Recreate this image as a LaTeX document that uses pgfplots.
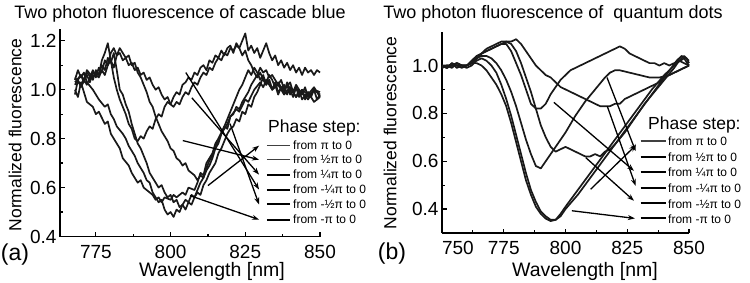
\documentclass[border=0pt]{standalone}
\usepackage{pgfplots}
\pgfplotsset{compat=1.18}
\usepackage{fontspec}
\setmainfont{Liberation Sans}
\usetikzlibrary{arrows.meta}

\pgfplotsset{
  panel/.style={
    scale only axis, clip=false,
    axis x line*=bottom, axis y line*=left,
    axis line style={-, line width=1.5pt},
    tick align=inside,
    major tick length=4.5pt, minor tick length=3pt,
    every tick/.style={black, line width=1.2pt},
    minor x tick num=1, minor y tick num=1,
    /pgf/number format/assume math mode=true,
    ticklabel style={font=\fontsize{19}{19}\selectfont},
    xticklabel style={yshift=-5pt},
    yticklabel style={/pgf/number format/.cd, fixed, fixed zerofill, precision=1},
    every axis plot post/.append style={black!90, line width=1.7pt, solid, mark=none, sharp plot, line join=round},
  },
}
\tikzset{
  annot/.style={line width=1.3pt, black, -{Stealth[length=7pt,width=5pt]}},
  legl/.style={line width=2pt, black},
  legt/.style={line width=1.3pt, black!75},
}
\newcommand{\legfont}{\fontsize{12}{12}\selectfont}

\begin{document}
\begin{tikzpicture}[x=1pt,y=1pt]
\path[use as bounding box] (0,0) rectangle (750,282);

% ---------------- panel (a) ----------------
\begin{axis}[panel,
  at={(60pt,45.5pt)}, anchor=south west,
  width=260pt, height=208pt,
  xmin=763, xmax=850, ymin=0.4, ymax=1.25,
  xtick={775,800,825,850}, ytick={0.4,0.6,0.8,1.0,1.2},
]
% A1
\addplot coordinates {(768,1.00)(769,0.97)(770,1.03)(771,0.99)(772,0.95)(774,0.93)(775,0.90)(776,0.91)(778,0.86)(779,0.87)(780,0.82)(782,0.78)(783,0.76)(784,0.72)(786,0.69)(787,0.66)(788,0.64)(789,0.62)(790,0.63)(791,0.60)(792,0.59)(794,0.57)(795,0.55)(796,0.56)(797,0.54)(798,0.56)(800,0.55)(801,0.57)(802,0.56)(804,0.58)(805,0.57)(806,0.60)(808,0.59)(809,0.62)(810,0.66)(811,0.65)(812,0.70)(814,0.74)(815,0.78)(816,0.80)(818,0.85)(819,0.84)(820,0.89)(822,0.92)(823,0.91)(825,0.96)(826,0.95)(828,1.00)(830,1.03)(831,1.01)(832,1.04)(834,1.00)(836,1.02)(838,0.98)(840,1.01)(842,0.97)(844,1.00)(846,0.98)(848,1.01)(850,0.97)};
% A2
\addplot coordinates {(768,1.04)(769,1.08)(770,1.05)(771,1.07)(772,1.03)(774,1.00)(775,0.98)(776,0.96)(778,0.93)(779,0.94)(780,0.90)(781,0.88)(782,0.85)(784,0.82)(785,0.80)(786,0.77)(787,0.75)(788,0.73)(789,0.70)(790,0.68)(791,0.66)(792,0.63)(793,0.62)(794,0.58)(795,0.56)(796,0.54)(797,0.55)(798,0.51)(799,0.49)(800,0.50)(801,0.48)(802,0.51)(803,0.50)(804,0.53)(805,0.55)(806,0.54)(807,0.57)(808,0.56)(809,0.59)(810,0.62)(811,0.64)(812,0.68)(813,0.71)(814,0.73)(815,0.77)(816,0.79)(817,0.82)(818,0.84)(819,0.86)(820,0.89)(821,0.90)(822,0.93)(823,0.92)(824,0.95)(825,0.97)(826,0.99)(827,1.02)(828,1.04)(829,1.06)(830,1.09)(831,1.07)(832,1.08)(833,1.05)(834,1.06)(836,1.02)(837,1.04)(838,1.00)(840,1.03)(841,0.99)(842,1.02)(844,0.98)(845,1.01)(846,0.97)(848,1.00)(850,0.99)};
% A3
\addplot coordinates {(768,1.02)(770,1.06)(771,1.03)(772,1.08)(774,1.05)(775,1.07)(776,1.06)(777,1.10)(778,1.08)(779,1.13)(780,1.11)(781,1.15)(782,1.08)(783,1.00)(784,0.98)(785,0.94)(786,0.91)(787,0.86)(788,0.82)(789,0.78)(790,0.76)(791,0.73)(792,0.70)(793,0.66)(794,0.64)(795,0.62)(796,0.60)(797,0.61)(798,0.58)(799,0.56)(800,0.57)(801,0.54)(802,0.55)(803,0.52)(804,0.53)(805,0.51)(806,0.54)(807,0.53)(808,0.56)(809,0.58)(810,0.57)(811,0.61)(812,0.63)(813,0.66)(814,0.68)(815,0.70)(816,0.74)(817,0.76)(818,0.79)(819,0.82)(820,0.84)(821,0.85)(822,0.88)(823,0.87)(824,0.91)(825,0.90)(826,0.94)(827,0.93)(828,0.97)(829,0.99)(830,1.02)(831,1.05)(832,1.03)(833,1.06)(834,1.04)(835,1.01)(836,1.03)(838,0.99)(839,1.02)(840,0.98)(842,1.01)(843,0.97)(844,0.99)(846,0.96)(848,1.00)(850,0.98)};
% A4
\addplot coordinates {(768,0.98)(769,1.04)(770,1.01)(772,1.06)(773,1.03)(774,1.07)(776,1.05)(777,1.08)(778,1.06)(779,1.10)(780,1.12)(781,1.09)(782,1.14)(783,1.17)(784,1.15)(785,1.13)(786,1.14)(787,1.10)(788,1.11)(789,1.07)(790,1.05)(791,1.02)(792,0.99)(793,0.95)(794,0.93)(795,0.89)(796,0.86)(797,0.83)(798,0.81)(799,0.79)(800,0.76)(801,0.75)(802,0.72)(803,0.71)(804,0.69)(805,0.70)(806,0.67)(807,0.66)(808,0.65)(809,0.63)(810,0.65)(811,0.64)(812,0.67)(813,0.69)(814,0.72)(815,0.76)(816,0.78)(817,0.82)(818,0.85)(819,0.88)(820,0.91)(821,0.94)(822,0.97)(823,1.00)(824,1.02)(825,1.05)(826,1.08)(827,1.06)(828,1.09)(829,1.07)(830,1.04)(831,1.06)(832,1.02)(833,1.04)(834,1.00)(835,1.03)(836,0.99)(838,1.02)(839,0.98)(840,1.01)(842,0.97)(843,1.00)(844,0.96)(846,0.99)(848,0.95)(850,0.97)};
% A5
\addplot coordinates {(768,1.05)(770,1.02)(772,1.07)(774,1.04)(775,1.08)(776,1.06)(777,1.12)(778,1.15)(779,1.19)(780,1.12)(781,1.05)(782,1.00)(783,0.96)(784,0.93)(785,0.90)(786,0.86)(787,0.84)(788,0.80)(789,0.79)(790,0.81)(791,0.80)(792,0.83)(793,0.85)(794,0.84)(795,0.88)(796,0.90)(797,0.89)(798,0.93)(799,0.95)(800,0.94)(801,0.97)(802,0.99)(803,0.98)(804,1.02)(805,1.03)(806,1.05)(807,1.04)(808,1.07)(809,1.06)(810,1.09)(811,1.10)(812,1.08)(813,1.12)(814,1.11)(815,1.14)(816,1.13)(817,1.16)(818,1.14)(819,1.17)(820,1.18)(821,1.15)(822,1.19)(823,1.17)(824,1.20)(825,1.23)(826,1.16)(827,1.18)(828,1.15)(829,1.17)(830,1.13)(831,1.16)(832,1.19)(833,1.15)(834,1.12)(835,1.14)(836,1.10)(837,1.12)(838,1.09)(839,1.11)(840,1.08)(841,1.10)(842,1.07)(843,1.09)(844,1.06)(845,1.09)(846,1.07)(847,1.08)(848,1.06)(849,1.08)(850,1.07)};
% A6
\addplot coordinates {(768,1.03)(770,1.06)(772,1.02)(774,1.08)(775,1.05)(776,1.09)(777,1.07)(778,1.12)(779,1.10)(780,1.15)(781,1.17)(782,1.14)(783,1.15)(784,1.12)(785,1.13)(786,1.10)(787,1.11)(788,1.08)(789,1.09)(790,1.06)(791,1.07)(792,1.04)(793,1.05)(794,1.02)(795,1.00)(796,1.01)(797,0.98)(798,0.96)(799,0.97)(800,0.94)(801,0.93)(802,0.95)(803,0.94)(804,0.97)(805,0.99)(806,0.98)(807,1.01)(808,1.03)(809,1.02)(810,1.05)(811,1.07)(812,1.06)(813,1.09)(814,1.08)(815,1.11)(816,1.13)(817,1.12)(818,1.15)(819,1.14)(820,1.17)(821,1.16)(822,1.18)(823,1.17)(824,1.14)(825,1.16)(826,1.12)(827,1.10)(828,1.07)(829,1.05)(830,1.07)(831,1.04)(832,1.02)(833,1.04)(834,1.00)(835,1.02)(836,0.98)(837,1.01)(838,0.99)(839,1.03)(840,1.00)(841,0.97)(842,1.01)(843,0.98)(844,1.00)(845,0.96)(846,0.99)(847,0.97)(848,1.00)(849,0.96)(850,0.98)};
% arrows (a)
\draw[annot] (axis cs:812.5,0.608) -- (axis cs:829.6,0.771);
\draw[annot] (axis cs:804.1,0.792) -- (axis cs:829.6,0.714);
\draw[annot] (axis cs:807.1,0.967) -- (axis cs:829.6,0.653);
\draw[annot] (axis cs:805.1,1.070) -- (axis cs:829.6,0.592);
\draw[annot] (axis cs:819.9,0.861) -- (axis cs:829.6,0.531);
\draw[annot] (axis cs:806.5,0.567) -- (axis cs:829.6,0.469);
% legend lines (a)
\draw[legt] (axis cs:832.2,0.771) -- (axis cs:839.9,0.771);
\draw[legt] (axis cs:832.2,0.714) -- (axis cs:839.9,0.714);
\draw[legl] (axis cs:832.2,0.653) -- (axis cs:839.9,0.653);
\draw[legl] (axis cs:832.2,0.592) -- (axis cs:839.9,0.592);
\draw[legl] (axis cs:832.2,0.531) -- (axis cs:839.9,0.531);
\draw[legl] (axis cs:832.2,0.469) -- (axis cs:839.9,0.469);
\end{axis}

% ---------------- panel (b) ----------------
\begin{axis}[panel,
  at={(442pt,49pt)}, anchor=south west,
  width=247pt, height=201pt,
  xmin=750, xmax=850, ymin=0.3, ymax=1.14,
  xtick={750,775,800,825,850}, ytick={0.4,0.6,0.8,1.0},
  xticklabels={\hphantom{750}750,775,800,825,850},
]
% B1
\addplot coordinates {(750,1.0)(752,0.99)(754,1.01)(756,0.99)(758,1.0)(760,1.0)(762,1.01)(764,1.03)(766,1.05)(768,1.06)(770,1.07)(772,1.08)(774,1.09)(776,1.10)(778,1.10)(780,1.11)(782,1.09)(784,1.06)(786,1.03)(788,1.00)(790,0.98)(792,0.96)(794,0.95)(796,0.93)(798,0.91)(800,0.90)(802,0.89)(804,0.88)(806,0.87)(808,0.86)(810,0.85)(812,0.84)(814,0.83)(816,0.83)(818,0.83)(820,0.84)(822,0.84)(824,0.86)(826,0.87)(828,0.88)(830,0.89)(832,0.90)(834,0.91)(836,0.92)(838,0.93)(840,0.95)(842,0.96)(844,0.97)(846,0.98)(848,0.99)(850,1.00)};
% B2
\addplot coordinates {(750,1.0)(752,1.0)(754,0.99)(756,1.01)(758,1.0)(760,1.0)(762,1.02)(764,1.04)(766,1.05)(768,1.06)(770,1.07)(772,1.08)(774,1.09)(776,1.09)(778,1.06)(780,1.01)(782,0.96)(784,0.90)(786,0.84)(788,0.82)(790,0.82)(792,0.84)(794,0.88)(796,0.91)(798,0.94)(800,0.96)(802,0.98)(804,0.99)(806,1.00)(808,1.01)(810,1.02)(812,1.03)(814,1.04)(816,1.05)(818,1.06)(820,1.07)(822,1.08)(824,1.07)(826,1.05)(828,1.04)(830,1.03)(832,1.02)(834,1.01)(836,1.01)(838,1.00)(840,1.01)(842,1.00)(844,1.01)(846,1.02)(848,1.01)(850,1.00)};
% B3
\addplot coordinates {(750,0.99)(752,1.0)(754,1.0)(756,1.01)(758,1.0)(760,1.0)(762,1.01)(764,1.03)(766,1.05)(768,1.07)(770,1.08)(772,1.09)(774,1.10)(776,1.10)(778,1.09)(780,1.06)(782,1.01)(784,0.95)(786,0.89)(788,0.82)(790,0.75)(792,0.70)(794,0.66)(796,0.64)(798,0.65)(800,0.66)(802,0.65)(804,0.64)(806,0.63)(808,0.62)(810,0.62)(812,0.63)(814,0.62)(816,0.64)(818,0.65)(820,0.67)(824,0.72)(828,0.78)(832,0.84)(836,0.89)(840,0.94)(844,0.99)(846,1.02)(848,1.04)(849,1.03)(850,1.02)};
% B4
\addplot coordinates {(750,1.0)(752,0.99)(754,1.01)(756,1.0)(758,1.0)(760,1.0)(762,1.01)(764,1.03)(766,1.04)(768,1.04)(770,1.03)(772,1.01)(774,0.98)(776,0.94)(778,0.89)(780,0.83)(782,0.76)(784,0.69)(786,0.63)(788,0.58)(790,0.57)(792,0.60)(796,0.66)(800,0.72)(804,0.79)(808,0.85)(812,0.90)(816,0.95)(818,0.97)(820,0.98)(822,0.98)(826,0.97)(830,0.96)(834,0.95)(838,0.95)(842,0.96)(846,0.98)(850,1.00)};
% B5
\addplot coordinates {(750,1.0)(752,0.99)(754,1.0)(756,1.01)(758,1.0)(760,0.99)(762,1.0)(764,1.02)(766,1.03)(768,1.02)(770,1.0)(772,0.97)(774,0.92)(776,0.86)(778,0.79)(780,0.71)(782,0.63)(784,0.55)(786,0.48)(788,0.43)(790,0.39)(792,0.37)(794,0.355)(796,0.355)(798,0.37)(800,0.40)(805,0.46)(810,0.53)(815,0.60)(820,0.67)(825,0.74)(830,0.81)(835,0.88)(840,0.95)(845,1.02)(847,1.04)(849,1.03)(850,1.01)};
% B6
\addplot coordinates {(750,0.99)(752,1.0)(754,1.0)(756,1.0)(758,0.99)(760,1.0)(762,1.01)(764,1.01)(766,1.0)(768,0.98)(770,0.95)(772,0.92)(774,0.88)(776,0.83)(778,0.76)(780,0.68)(782,0.60)(784,0.52)(786,0.46)(788,0.41)(790,0.38)(792,0.36)(794,0.35)(796,0.355)(798,0.38)(800,0.41)(805,0.48)(810,0.55)(815,0.62)(820,0.69)(825,0.76)(830,0.83)(835,0.90)(840,0.96)(845,1.01)(848,1.03)(850,1.00)};
% arrows (b)
\draw[annot] (axis cs:810.2,0.483) -- (axis cs:828.5,0.667);
\draw[annot] (axis cs:816.8,0.950) -- (axis cs:828.4,0.642);
\draw[annot] (axis cs:795.3,0.846) -- (axis cs:827.7,0.560);
\draw[annot] (axis cs:816.9,0.830) -- (axis cs:828.4,0.497);
\draw[annot] (axis cs:808.2,0.615) -- (axis cs:827.7,0.435);
\draw[annot] (axis cs:802.6,0.393) -- (axis cs:828.1,0.361);
% legend lines (b)
\draw[legt] (axis cs:830.4,0.685) -- (axis cs:840.6,0.685);
\draw[legl] (axis cs:830.4,0.618) -- (axis cs:840.6,0.618);
\draw[legl] (axis cs:830.4,0.557) -- (axis cs:840.6,0.557);
\draw[legl] (axis cs:830.4,0.490) -- (axis cs:840.6,0.490);
\draw[legl] (axis cs:830.4,0.425) -- (axis cs:840.6,0.425);
\draw[legl] (axis cs:830.4,0.361) -- (axis cs:840.6,0.361);
\end{axis}

% ---------------- texts ----------------
\node[font=\fontsize{18}{18}\selectfont] at (180,268) {Two photon fluorescence of cascade blue};
\node[font=\fontsize{18}{18}\selectfont] at (553,268) {Two photon fluorescence of\ \ quantum dots};
\node[font=\fontsize{17.5}{17.5}\selectfont, rotate=90] at (15,147) {Normalized fluorescence};
\node[font=\fontsize{17.5}{17.5}\selectfont, rotate=90] at (390,149) {Normalized fluorescence};
\node[font=\fontsize{19.5}{19.5}\selectfont, inner sep=0pt] at (212,10.5) {Wavelength [nm]};
\node[font=\fontsize{19.5}{19.5}\selectfont, inner sep=0pt] at (585,10.5) {Wavelength [nm]};
\node[font=\fontsize{23}{23}\selectfont] at (15,27) {(a)};
\node[font=\fontsize{23}{23}\selectfont] at (392,28) {(b)};

% legend texts (a)
\node[font=\fontsize{17.5}{17.5}\selectfont, anchor=west, inner sep=0pt] at (268,154) {Phase step:};
\node[font=\legfont, anchor=west, inner sep=0pt] at (293,137) {from π to 0};
\node[font=\legfont, anchor=west, inner sep=0pt] at (293,123) {from ½π to 0};
\node[font=\legfont, anchor=west, inner sep=0pt] at (293,108) {from ¼π to 0};
\node[font=\legfont, anchor=west, inner sep=0pt] at (293,93) {from -¼π to 0};
\node[font=\legfont, anchor=west, inner sep=0pt] at (293,78) {from -½π to 0};
\node[font=\legfont, anchor=west, inner sep=0pt] at (293,63) {from -π to 0};
% legend texts (b)
\node[font=\fontsize{17.5}{17.5}\selectfont, anchor=west, inner sep=0pt] at (648,157) {Phase step:};
\node[font=\legfont, anchor=west, inner sep=0pt] at (668,140.3) {from π to 0};
\node[font=\legfont, anchor=west, inner sep=0pt] at (668,124.3) {from ½π to 0};
\node[font=\legfont, anchor=west, inner sep=0pt] at (668,109.7) {from ¼π to 0};
\node[font=\legfont, anchor=west, inner sep=0pt] at (668,93.7) {from -¼π to 0};
\node[font=\legfont, anchor=west, inner sep=0pt] at (668,78) {from -½π to 0};
\node[font=\legfont, anchor=west, inner sep=0pt] at (668,62.7) {from -π to 0};
\end{tikzpicture}
\end{document}
